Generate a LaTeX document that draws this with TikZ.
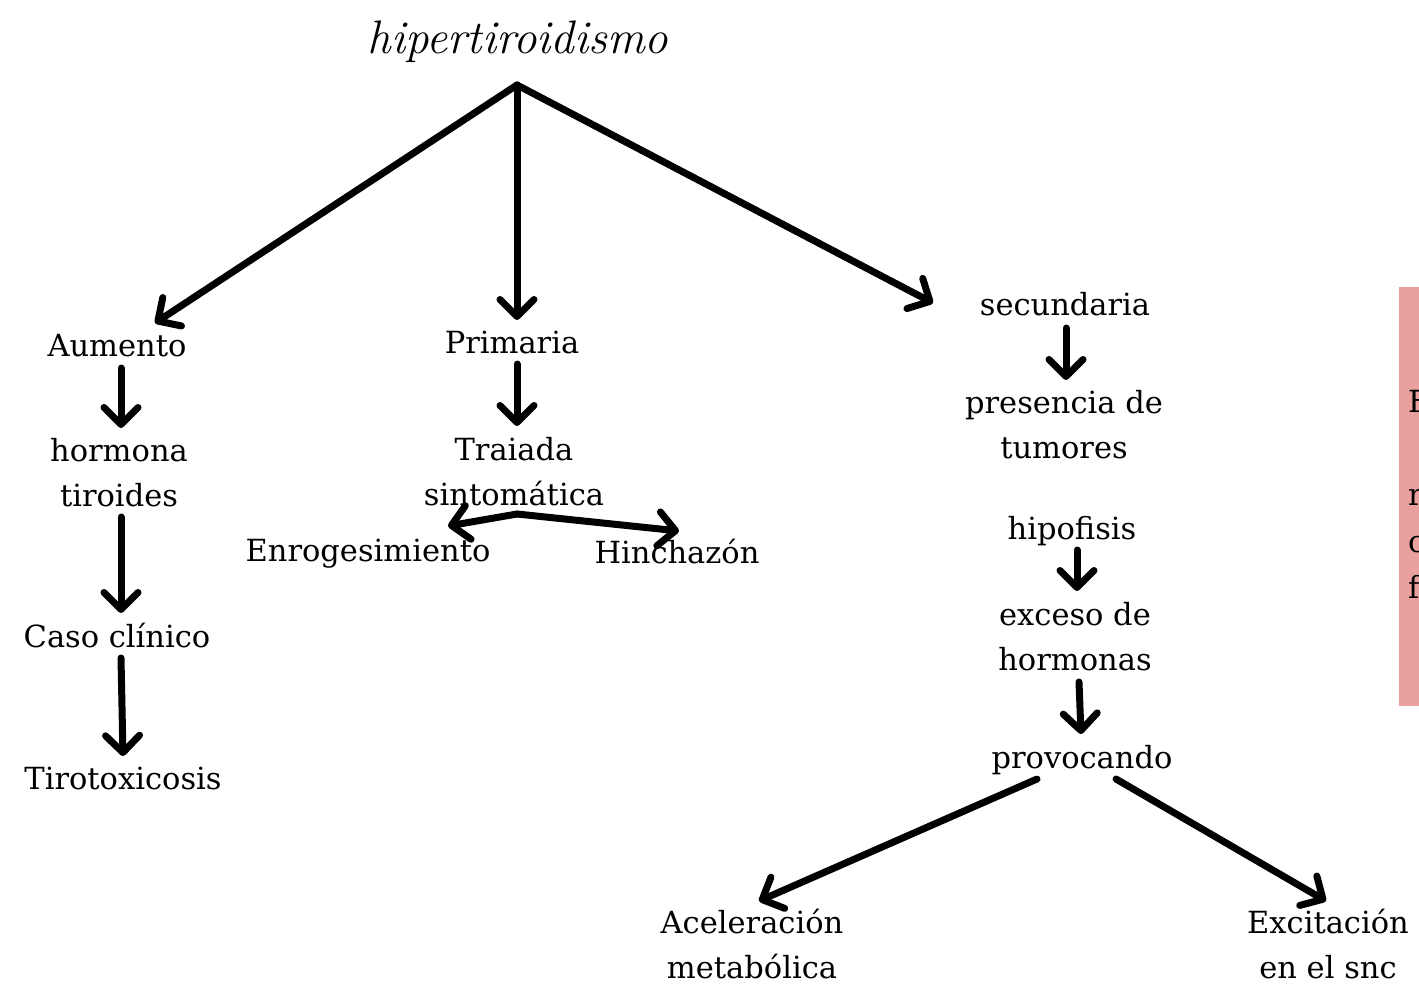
\documentclass[tikz,border=0pt]{standalone}
\usepackage{fontspec}
\setmainfont{DejaVu Serif}
\newfontfamily\titlefont{Latin Modern Roman}
\usetikzlibrary{arrows.meta}
\definecolor{pinkbar}{RGB}{235,160,160}
\tikzset{
  lbl/.style={font=\fontsize{30.5}{45}\selectfont, align=center, inner sep=0pt, anchor=base},
  arr/.style={line width=7pt, line cap=round, line join=round,
    -{Straight Barb[length=17pt,width=34pt,line cap=round,line join=round]}},
}
\begin{document}
\begin{tikzpicture}[x=1pt,y=-1pt]
\useasboundingbox (0,0) rectangle (1419,983);
% title
\node[inner sep=0pt, font=\titlefont\itshape\fontsize{47}{50}\selectfont] (title) at (518,42) {hipertiroidismo};
% left branch (base anchor = baseline of last line)
\node[lbl] (aum) at (117,356) {Aumento};
\node[lbl] (horm) at (119,506) {hormona\\tiroides};
\node[lbl] (caso) at (117,647) {Caso clínico};
\node[lbl] (tiro) at (123,789) {Tirotoxicosis};
% middle branch
\node[lbl] (prim) at (512,353) {Primaria};
\node[lbl] (tria) at (514,505) {Traiada\\sintomática};
\node[lbl] (enro) at (368,561) {Enrogesimiento};
\node[lbl] (hinc) at (677,563) {Hinchazón};
% right branch
\node[lbl] (secu) at (1065,315) {secundaria};
\node[lbl] (pres) at (1064,458) {presencia de\\tumores};
\node[lbl] (hipo) at (1072,539) {hipofisis};
\node[lbl] (exce) at (1075,670) {exceso de\\hormonas};
\node[lbl] (prov) at (1082,768) {provocando};
\node[lbl] (acel) at (752,978) {Aceleración\\metabólica};
\node[lbl] (exci) at (1328,978) {Excitación\\en el snc};
% pink bar with cut-off text
\fill[pinkbar] (1399,287) rectangle (1419,706);
\begin{scope}
\clip (1399,287) rectangle (1419,706);
\node[lbl, anchor=base west] (f1) at (1408,412) {F};
\node[lbl, anchor=base west] (f2) at (1408,505) {r};
\node[lbl, anchor=base west] (f3) at (1408,552) {c};
\node[lbl, anchor=base west] (f4) at (1408,598) {f};
\end{scope}
% connector coordinates
\coordinate (apex) at (517,85);
\coordinate (aumT) at (155,323);
\coordinate (primT) at (517,320);
\coordinate (secuT) at (933,303);
\coordinate (aumB) at (121,368);
\coordinate (hormT) at (121,428);
\coordinate (hormB) at (121,517);
\coordinate (casoT) at (121,613);
\coordinate (casoB) at (121,658);
\coordinate (tiroT) at (123,756);
\coordinate (primB) at (517,364);
\coordinate (triaT) at (517,426);
\coordinate (triaB) at (517,514);
\coordinate (enroT) at (448,526);
\coordinate (hincT) at (679,531);
\coordinate (secuB) at (1066,328);
\coordinate (presT) at (1066,380);
\coordinate (hipoB) at (1077,550);
\coordinate (exceT) at (1077,591);
\coordinate (exceB) at (1079,682);
\coordinate (provT) at (1081,734);
\coordinate (provL) at (1037,779);
\coordinate (provR) at (1116,779);
\coordinate (acelT) at (759,901);
\coordinate (exciT) at (1326,901);
% connectors
\draw[arr] (apex) -- (aumT);
\draw[arr] (apex) -- (primT);
\draw[arr] (apex) -- (secuT);
\draw[arr] (aumB) -- (hormT);
\draw[arr] (hormB) -- (casoT);
\draw[arr] (casoB) -- (tiroT);
\draw[arr] (primB) -- (triaT);
\draw[arr] (triaB) -- (enroT);
\draw[arr] (triaB) -- (hincT);
\draw[arr] (secuB) -- (presT);
\draw[arr] (hipoB) -- (exceT);
\draw[arr] (exceB) -- (provT);
\draw[arr] (provL) -- (acelT);
\draw[arr] (provR) -- (exciT);
\end{tikzpicture}
\end{document}
